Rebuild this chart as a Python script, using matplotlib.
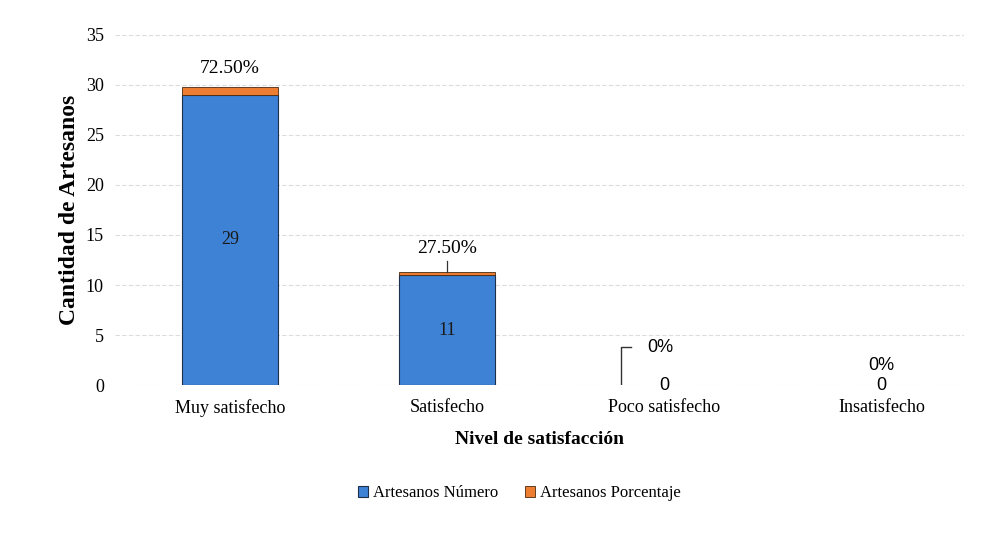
import matplotlib

matplotlib.use("Agg")
import matplotlib.pyplot as plt

categorias = ["Muy satisfecho", "Satisfecho", "Poco satisfecho", "Insatisfecho"]
numero = [29, 11, 0, 0]
porcentaje = [0.725, 0.275, 0.0, 0.0]
etiquetas_pct = ["72.50%", "27.50%", "0%", "0%"]
yticks = [0, 5, 10, 15, 20, 25, 30, 35]

C_BLUE, C_ORANGE = "#3D82D4", "#ED7D31"
SERIF = ["Liberation Serif", "DejaVu Serif"]
SANS = ["Liberation Sans", "DejaVu Sans"]

plt.rcParams["font.family"] = SERIF

fig = plt.figure(figsize=(9.99, 5.48), dpi=100)
ax = fig.add_axes([0.115, 0.297, 0.85, 0.64])

x = list(range(len(categorias)))
w = 0.44
lw_num = [0.8 if v > 0 else 0 for v in numero]
lw_pct = [0.6 if v > 0 else 0 for v in porcentaje]
ax.bar(x, numero, w, color=C_BLUE, edgecolor="#1d2f4a", linewidth=lw_num,
       label="Artesanos Número", zorder=3)
ax.bar(x, porcentaje, w, bottom=numero, color=C_ORANGE, edgecolor="#4a2a12",
       linewidth=lw_pct, label="Artesanos Porcentaje", zorder=3)

ax.set_xlim(-0.53, 3.38)
ax.set_ylim(0, 35)
ax.set_yticks(yticks)
ax.set_xticks(x)
ax.set_xticklabels(categorias, fontsize=13)
ax.tick_params(axis="y", labelsize=13, length=0, pad=8)
ax.tick_params(axis="x", length=0, pad=10)
for s in ax.spines.values():
    s.set_visible(False)
ax.grid(axis="y", color="#dcdcdc", lw=0.8, ls=(0, (4, 2)), zorder=0)

ax.set_ylabel("Cantidad de Artesanos", fontsize=17, fontweight="bold", labelpad=4)
ax.set_xlabel("Nivel de satisfacción", fontsize=14, fontweight="bold", labelpad=10)

# count labels inside bars
for i in range(2):
    ax.text(x[i], numero[i] / 2, str(numero[i]), ha="center", va="center",
            fontsize=13, color="#1a1a1a", zorder=4)
# zero counts
for i in (2, 3):
    ax.text(x[i], numero[i], str(numero[i]), ha="center", va="center",
            fontsize=13, family=SANS, zorder=4)

# percentage labels
top0 = numero[0] + porcentaje[0]
ax.text(x[0], top0 + 1.0, etiquetas_pct[0], ha="center", va="bottom", fontsize=14)
top1 = numero[1] + porcentaje[1]
ax.plot([x[1], x[1]], [top1, top1 + 1.1], color="#333333", lw=0.9, zorder=4)
ax.text(x[1], top1 + 1.5, etiquetas_pct[1], ha="center", va="bottom", fontsize=14)
ax.plot([x[2] - 0.2, x[2] - 0.2, x[2] - 0.155], [0, 3.8, 3.8], color="#333333",
        lw=1.0, zorder=4)
ax.text(x[2] - 0.08, 3.8, etiquetas_pct[2], ha="left", va="center",
        fontsize=13, family=SANS, zorder=4)
ax.text(x[3], 2.0, etiquetas_pct[3], ha="center", va="center",
        fontsize=13, family=SANS, zorder=4)

fig.legend(loc="center", bbox_to_anchor=(0.52, 0.10), ncol=2, frameon=False,
           fontsize=12, handlelength=0.6, handleheight=0.6, columnspacing=1.6,
           handletextpad=0.3)

fig.savefig("out.png", dpi=100, facecolor="white")
